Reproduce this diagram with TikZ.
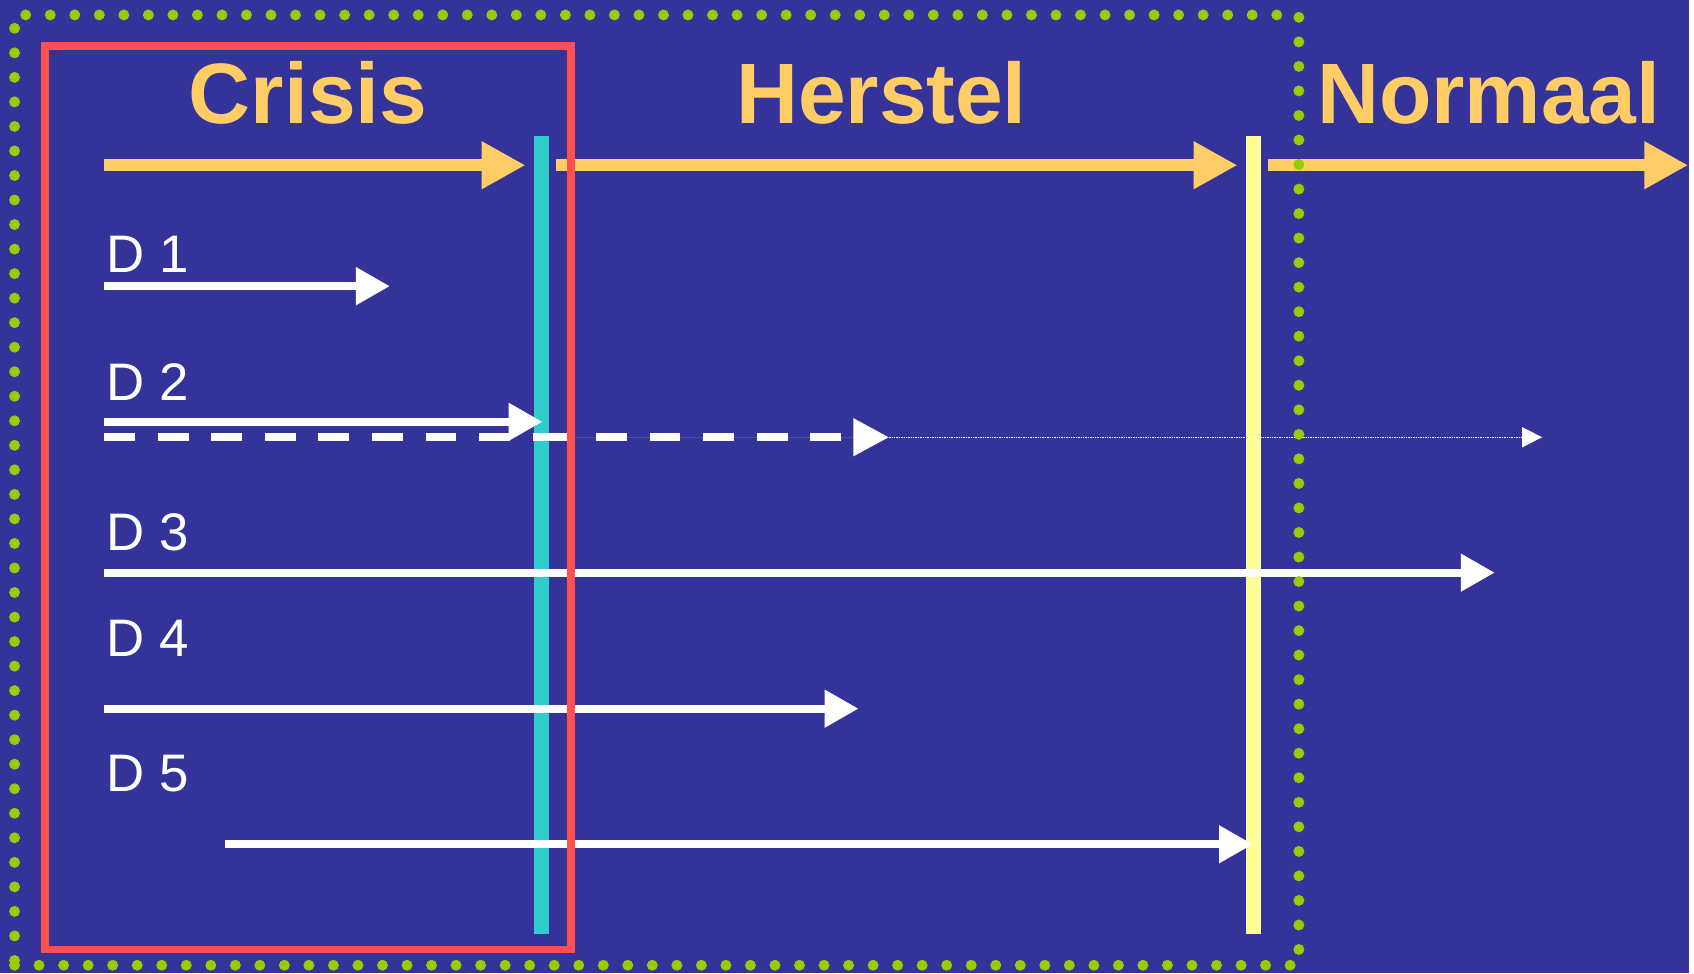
\documentclass[tikz,border=0pt]{standalone}
\usepackage{fontspec}
\setmainfont{Liberation Sans}
\usetikzlibrary{arrows.meta}
\definecolor{slideblue}{RGB}{51,51,153}
\definecolor{phaseorange}{RGB}{255,204,102}
\definecolor{crisisred}{RGB}{255,80,80}
\definecolor{dotgreen}{RGB}{153,204,0}
\definecolor{barcyan}{RGB}{51,204,204}
\definecolor{baryellow}{RGB}{255,255,153}
\tikzstyle{phase} = [text=phaseorange, font=\fontsize{86}{90}\selectfont\bfseries, inner sep=0pt, anchor=base]
\tikzstyle{dlabel} = [text=white, font=\fontsize{53}{56}\selectfont, inner sep=0pt, anchor=base west]
\tikzstyle{phasearrow} = [draw=phaseorange, fill=phaseorange, line width=11.7pt, -{Triangle[length=44pt,width=45pt]}]
\tikzstyle{darrow} = [draw=white, fill=white, line width=8pt, -{Triangle[length=34pt,width=36pt]}]
\tikzstyle{dashline} = [draw=white, line width=8pt, dash pattern=on 31pt off 22.7pt]
\tikzstyle{bar} = [minimum width=15pt, minimum height=801pt, inner sep=0pt, outer sep=0pt]
\tikzstyle{crisisbox} = [draw=crisisred, line width=7.6pt, inner sep=0pt, minimum width=527.5pt, minimum height=906pt]
\tikzstyle{greendots} = [draw=dotgreen, line width=11pt, line cap=round, dash pattern=on 0pt off 24.6pt, inner sep=0pt, minimum width=1288pt, minimum height=953pt]

\begin{document}
\begin{tikzpicture}[x=1pt, y=-1pt]

	\fill[slideblue] (0,0) rectangle (1694,976);

	\node (cyanbar) [bar, fill=barcyan] at (543,536.5) {};
	\node (yellowbar) [bar, fill=baryellow] at (1257,536.5) {};

	\coordinate (crisisstart) at (104.6,165.7);
	\coordinate (crisisend) at (527,165.7);
	\coordinate (herstelstart) at (558,165.7);
	\coordinate (herstelend) at (1241,165.7);
	\coordinate (normaalstart) at (1271.7,165.7);
	\coordinate (normaalend) at (1693,165.7);

	\coordinate (d1start) at (104.6,287);
	\coordinate (d1end) at (391,287);
	\coordinate (d2start) at (104.6,423);
	\coordinate (d2end) at (544,423);
	\coordinate (d2dashstart) at (104.6,438.5);
	\coordinate (d2dashmid) at (544,438.5);
	\coordinate (d2dashend) at (891.7,438.5);
	\coordinate (d2dotend) at (1546.5,438.5);
	\coordinate (d3start) at (104.6,574.3);
	\coordinate (d3end) at (1499,574.3);
	\coordinate (d4start) at (104.6,710.7);
	\coordinate (d4end) at (861,710.7);
	\coordinate (d5start) at (226,846.7);
	\coordinate (d5end) at (1256.5,846.7);

	\draw [darrow] (d1start) -- (d1end);
	\draw [darrow] (d2start) -- (d2end);
	\draw [dashline] (d2dashstart) -- (d2dashmid);
	\draw [darrow, dashline, -{Triangle[length=36pt,width=36pt]}] (d2dashmid) -- (d2dashend);
	\draw [draw=white, fill=white, line width=1.4pt, densely dotted, -{Triangle[length=20pt,width=20pt]}] (d2dashend) -- (d2dotend);
	\draw [darrow] (d3start) -- (d3end);
	\draw [darrow] (d4start) -- (d4end);
	\draw [darrow] (d5start) -- (d5end);

	\draw [phasearrow] (crisisstart) -- (crisisend);
	\draw [phasearrow] (herstelstart) -- (herstelend);
	\draw [phasearrow] (normaalstart) -- (normaalend);

	\node (crisis) [phase] at (309,124) {Crisis};
	\node (herstel) [phase] at (884,124) {Herstel};
	\node (normaal) [phase] at (1493,124) {Normaal};

	\node (d1) [dlabel] at (107,273) {D 1};
	\node (d2) [dlabel] at (107,402) {D 2};
	\node (d3) [dlabel] at (107,552) {D 3};
	\node (d4) [dlabel] at (107,658) {D 4};
	\node (d5) [dlabel] at (107,794) {D 5};

	\node (crisisframe) [crisisbox] at (308.75,499) {};
	\node (urgentframe) [greendots] at (658.6,491.5) {};

\end{tikzpicture}
\end{document}
